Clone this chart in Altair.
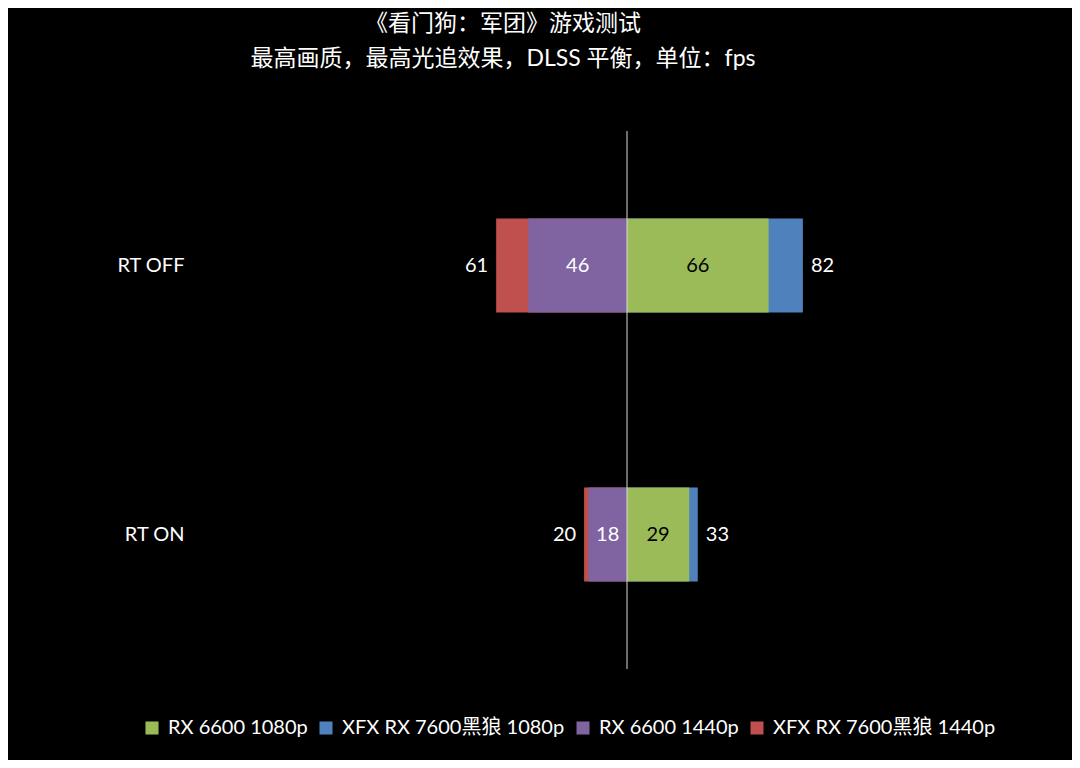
import altair as alt
import pandas as pd

categories = ["RT OFF", "RT ON"]
series_names = ["RX 6600 1080p", "XFX RX 7600黑狼 1080p", "RX 6600 1440p", "XFX RX 7600黑狼 1440p"]
series_colors = ["#9BBB59", "#4F81BD", "#8064A2", "#C0504D"]
rx6600_1080 = [66, 29]
xfx7600_1080 = [82, 33]
rx6600_1440 = [46, 18]
xfx7600_1440 = [61, 20]

FONT = "Lato, 'Noto Sans CJK SC', sans-serif"

# draw order: larger (outer) bars first, then inner bars on top
rows = []
for s, vals, sign in [
    (series_names[1], xfx7600_1080, 1),
    (series_names[3], xfx7600_1440, -1),
    (series_names[0], rx6600_1080, 1),
    (series_names[2], rx6600_1440, -1),
]:
    for c, v in zip(categories, vals):
        rows.append({"cat": c, "series": s, "val": v, "x": sign * v, "mid": sign * v / 2})
df = pd.DataFrame(rows)

xscale = alt.Scale(domain=[-200, 200], nice=False, zero=False)
yscale = alt.Scale(domain=categories, paddingInner=0.65, paddingOuter=0.325)

base = alt.Chart(df)

bars = base.mark_bar().encode(
    x=alt.X("x:Q", scale=xscale, axis=None, stack=None),
    x2=alt.datum(0),
    y=alt.Y("cat:N", scale=yscale, sort=categories,
            axis=alt.Axis(title=None, domain=False, ticks=False, labelColor="white",
                          labelFontSize=20, labelFont=FONT, labelPadding=14, grid=False)),
    color=alt.Color("series:N",
                    scale=alt.Scale(domain=series_names, range=series_colors),
                    legend=alt.Legend(title=None, orient="none", direction="horizontal",
                                      legendX=-56, legendY=587, symbolType="square",
                                      symbolSize=170, symbolStrokeWidth=0,
                                      labelFontSize=20, labelFont=FONT, labelColor="white",
                                      labelLimit=0, columnPadding=8, symbolOffset=0,
                                      labelOffset=6, columns=4)),
)

inner_green = base.transform_filter(alt.datum.series == series_names[0]).mark_text(
    fontSize=20, font=FONT, color="black", baseline="middle", align="center"
).encode(x=alt.X("mid:Q", scale=xscale), y=alt.Y("cat:N", scale=yscale, sort=categories), text="val:Q")

inner_purple = base.transform_filter(alt.datum.series == series_names[2]).mark_text(
    fontSize=20, font=FONT, color="white", baseline="middle", align="center"
).encode(x=alt.X("mid:Q", scale=xscale), y=alt.Y("cat:N", scale=yscale, sort=categories), text="val:Q")

outer_right = base.transform_filter(alt.datum.series == series_names[1]).mark_text(
    fontSize=20, font=FONT, color="white", baseline="middle", align="left", dx=8
).encode(x=alt.X("x:Q", scale=xscale), y=alt.Y("cat:N", scale=yscale, sort=categories), text="val:Q")

outer_left = base.transform_filter(alt.datum.series == series_names[3]).mark_text(
    fontSize=20, font=FONT, color="white", baseline="middle", align="right", dx=-8
).encode(x=alt.X("x:Q", scale=xscale), y=alt.Y("cat:N", scale=yscale, sort=categories), text="val:Q")

rule = alt.Chart(pd.DataFrame({"z": [0]})).mark_rule(color="#d9d9d9", strokeWidth=1).encode(
    x=alt.X("z:Q", scale=xscale)
)

chart = alt.layer(bars, rule, inner_green, inner_purple, outer_right, outer_left).properties(
    width=858,
    height=538,
    background="black",
    autosize=alt.AutoSizeParams(type="none"),
    padding={"left": 190, "top": 123, "right": 16, "bottom": 91},
    title=alt.TitleParams(
        text=["《看门狗：军团》游戏测试", "最高画质，最高光追效果，DLSS 平衡，单位：fps"],
        color="white", fontSize=23, font=FONT, fontWeight="normal",
        anchor="middle", dx=-124, offset=60, lineHeight=35,
    ),
).configure_view(stroke=None)

chart.save("out.html", embed_options={"renderer": "svg", "actions": False})
